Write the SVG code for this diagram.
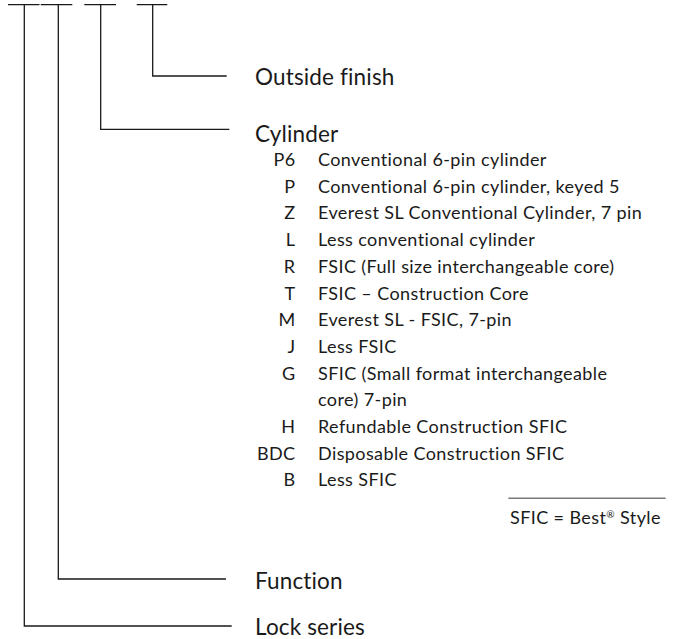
<svg xmlns="http://www.w3.org/2000/svg" width="678" height="639" viewBox="0 0 678 639">
<style>
.ln{stroke:#1a1a1a;stroke-width:1.3;fill:none}
.sep{stroke:#7a7a7a;stroke-width:1.5;fill:none}
.h{font-family:Lato,"Open Sans",sans-serif;font-size:22.5px;letter-spacing:0.15px;fill:#1a1a1a}
.t{font-family:Lato,"Open Sans",sans-serif;font-size:18px;letter-spacing:0.4px;fill:#1a1a1a}
.c{text-anchor:end}
</style>
<rect width="678" height="639" fill="#fff"/>
<g id="connectors">
<path class="ln" d="M8,4.7H39.5M40.7,4.7H72.3M84.3,4.7H116M136.7,4.7H167.3"/>
<path class="ln" d="M152.7,4.7V76H226.7"/>
<path class="ln" d="M100.7,4.7V129.3H229.3"/>
<path class="ln" d="M58.3,4.7V579H226"/>
<path class="ln" d="M24.3,4.7V626H231.7"/>
</g>
<g id="outside-finish"><text class="h" x="255" y="84.5">Outside finish</text></g>
<g id="cylinder">
<text class="h" x="255" y="141.5">Cylinder</text>
<g>
<text class="t c" x="295.5" y="166">P6</text><text class="t" x="318" y="166">Conventional 6-pin cylinder</text>
<text class="t c" x="295.5" y="192.7">P</text><text class="t" x="318" y="192.7">Conventional 6-pin cylinder, keyed 5</text>
<text class="t c" x="295.5" y="219.4">Z</text><text class="t" x="318" y="219.4">Everest SL Conventional Cylinder, 7 pin</text>
<text class="t c" x="295.5" y="246.1">L</text><text class="t" x="318" y="246.1">Less conventional cylinder</text>
<text class="t c" x="295.5" y="272.8">R</text><text class="t" x="318" y="272.8">FSIC (Full size interchangeable core)</text>
<text class="t c" x="295.5" y="299.5">T</text><text class="t" x="318" y="299.5">FSIC – Construction Core</text>
<text class="t c" x="295.5" y="326.2">M</text><text class="t" x="318" y="326.2">Everest SL - FSIC, 7-pin</text>
<text class="t c" x="295.5" y="352.9">J</text><text class="t" x="318" y="352.9">Less FSIC</text>
<text class="t c" x="295.5" y="379.6">G</text><text class="t" x="318" y="379.6">SFIC (Small format interchangeable</text>
<text class="t" x="318" y="406.3">core) 7-pin</text>
<text class="t c" x="295.5" y="433">H</text><text class="t" x="318" y="433">Refundable Construction SFIC</text>
<text class="t c" x="295.5" y="459.7">BDC</text><text class="t" x="318" y="459.7">Disposable Construction SFIC</text>
<text class="t c" x="295.5" y="486.4">B</text><text class="t" x="318" y="486.4">Less SFIC</text>
</g>
</g>
<g id="note">
<path class="sep" d="M508.3,498.3H665.7"/>
<text class="t" x="510" y="524.3">SFIC = Best<tspan font-size="10" dy="-6">®</tspan><tspan dy="6"> Style</tspan></text>
</g>
<g id="function"><text class="h" x="255" y="589">Function</text></g>
<g id="lock-series"><text class="h" x="255" y="635">Lock series</text></g>
</svg>
